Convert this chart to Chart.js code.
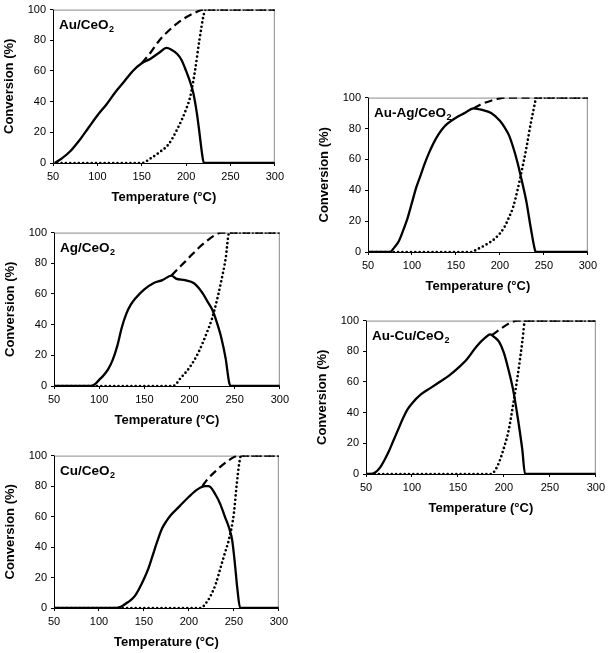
<!DOCTYPE html>
<html lang="en">
<head>
<meta charset="UTF-8">
<title>Conversion vs Temperature</title>
<script src="https://cdn.jsdelivr.net/npm/chart.js"></script>
<style>
  body { margin: 0; background: #fff; }
  #page { position: relative; width: 610px; height: 653px; overflow: hidden; }
  .panel { position: absolute; }
</style>
</head>
<body>
<div id="page">
  <div class="panel" id="p1"><canvas id="c1"></canvas></div>
  <div class="panel" id="p2"><canvas id="c2"></canvas></div>
  <div class="panel" id="p3"><canvas id="c3"></canvas></div>
  <div class="panel" id="p4"><canvas id="c4"></canvas></div>
  <div class="panel" id="p5"><canvas id="c5"></canvas></div>
</div>
<script>
// tick values
const xTicks = [50, 100, 150, 200, 250, 300];
const yTicks = [0, 20, 40, 60, 80, 100];

// Au/CeO2
const auSolidT = [52,60,70,80,90,100,110,120,130,140,150,160,170,178,183,190,195,200,205,208,212,215,218,220,300];
const auSolidY = [0,3,8,15,23,31,38,46,53,60,65,68,72,75,74,71,67,60,52,46,33,20,6,0,0];
const auDashT = [150,160,170,180,190,200,210,220,300];
const auDashY = [65,72,80,86,91,95,98,100,100];
const auDotT = [50,150,160,170,180,190,200,205,210,215,220,222,300];
const auDotY = [0,0,3,7,12,22,35,44,60,80,97,100,100];

// Ag/CeO2
const agSolidT = [50,90,95,100,105,110,115,120,125,130,135,140,150,160,170,180,185,195,205,210,215,220,225,230,235,240,244,246,300];
const agSolidY = [0,0,1,4,7,11,17,26,38,47,53,57,63,67,69,72,70,69,67,64,60,55,50,42,32,18,2,0,0];
const agDashT = [180,190,200,210,220,230,235,300];
const agDashY = [72,78,84,90,95,99,100,100];
const agDotT = [50,182,190,200,210,220,225,230,235,240,244,300];
const agDotY = [0,0,5,12,22,36,44,55,68,83,100,100];

// Cu/CeO2
const cuSolidT = [50,118,125,130,135,140,145,150,155,160,165,170,175,180,190,200,210,218,222,230,235,240,245,248,251,254,257,300];
const cuSolidY = [0,0,1,3,5,8,13,19,26,35,44,52,57,61,67,73,78,80,80,74,68,60,52,45,30,12,0,0];
const cuDashT = [215,220,230,240,250,255,300];
const cuDashY = [80,84,90,95,99,100,100];
const cuDotT = [50,213,220,225,230,235,240,245,250,253,256,258,300];
const cuDotY = [0,0,4,9,16,26,36,46,62,80,95,100,100];

// Au-Ag/CeO2
const auagSolidT = [50,75,80,85,90,95,100,105,110,115,120,125,130,135,140,150,160,170,180,190,200,205,210,215,220,225,230,235,240,241,300];
const auagSolidY = [0,0,3,7,14,22,32,42,50,58,65,71,76,80,83,87,90,93,92,90,85,81,76,68,58,46,33,16,1,0,0];
const auagDashT = [170,180,190,200,210,300];
const auagDashY = [93,96,98,99.5,100,100];
const auagDotT = [50,167,175,185,195,205,210,215,220,225,230,235,240,241,300];
const auagDotY = [0,0,2,5,9,16,22,29,40,53,67,83,97,100,100];

// Au-Cu/CeO2
const aucuSolidT = [50,55,60,65,70,75,80,85,90,95,100,110,120,130,140,150,160,170,180,185,190,195,200,205,210,215,220,223,300];
const aucuSolidY = [0,0,1,4,9,15,22,29,36,42,46,52,56,60,64,69,75,83,89,91,89,86,79,68,55,37,16,0,0];
const aucuDashT = [187,195,205,215,300];
const aucuDashY = [90.5,94,98,100,100];
const aucuDotT = [50,186,190,195,200,205,210,215,220,223,300];
const aucuDotY = [0,0,2,8,17,28,45,64,86,100,100];

// plot area of each panel on the page: left, top, right, bottom
const panels = [
  { id: "1", name: "Au/CeO", area: [53, 7, 278, 163],
    series: [auSolidT, auSolidY, auDashT, auDashY, auDotT, auDotY] },
  { id: "2", name: "Ag/CeO", area: [54, 230, 283, 386],
    series: [agSolidT, agSolidY, agDashT, agDashY, agDotT, agDotY] },
  { id: "3", name: "Cu/CeO", area: [54, 453, 282, 608],
    series: [cuSolidT, cuSolidY, cuDashT, cuDashY, cuDotT, cuDotY] },
  { id: "4", name: "Au-Ag/CeO", area: [368, 95, 591, 252],
    series: [auagSolidT, auagSolidY, auagDashT, auagDashY, auagDotT, auagDotY] },
  { id: "5", name: "Au-Cu/CeO", area: [366, 318, 599, 474],
    series: [aucuSolidT, aucuSolidY, aucuDashT, aucuDashY, aucuDotT, aucuDotY] }
];

const FONT = "'Liberation Sans', Arial, sans-serif";
const YAXIS_W = 55, TOP_PAD = 8, RIGHT_PAD = 10, XAXIS_H = 50;

function pts(xs, ys) {
  return xs.map((x, i) => ({ x: x, y: ys[i] }));
}

// frame around the plot area (top and right sides are grey)
const framePlugin = {
  id: "frame",
  beforeDatasetsDraw(chart) {
    const a = chart.chartArea, ctx = chart.ctx;
    ctx.save();
    ctx.strokeStyle = "#8a8a8a";
    ctx.lineWidth = 1;
    ctx.strokeRect(a.left + 0.5, a.top + 0.5, a.right - a.left - 1, a.bottom - a.top);
    ctx.strokeStyle = "#000";
    ctx.beginPath();
    ctx.moveTo(a.left + 0.5, a.top);
    ctx.lineTo(a.left + 0.5, a.bottom + 0.5);
    ctx.lineTo(a.right, a.bottom + 0.5);
    ctx.stroke();
    ctx.restore();
  }
};

// catalyst name with subscript 2
const namePlugin = {
  id: "catalystName",
  afterDraw(chart, args, opts) {
    const a = chart.chartArea, ctx = chart.ctx;
    const x = a.left + 6, y = a.top + 19;
    ctx.save();
    ctx.fillStyle = "#000";
    ctx.textBaseline = "alphabetic";
    ctx.font = "bold 13.5px " + FONT;
    ctx.fillText(opts.text, x, y);
    const w = ctx.measureText(opts.text).width;
    ctx.font = "bold 9px " + FONT;
    ctx.fillText("2", x + w + 0.5, y + 3);
    ctx.restore();
  }
};

panels.forEach(p => {
  const [L, T, R, B] = p.area;
  const box = document.getElementById("p" + p.id);
  const canvas = document.getElementById("c" + p.id);
  const w = R - L + YAXIS_W + RIGHT_PAD;
  const h = B - T + TOP_PAD + XAXIS_H;
  box.style.left = (L - YAXIS_W) + "px";
  box.style.top = (T - TOP_PAD) + "px";
  canvas.width = w;
  canvas.height = h;
  canvas.style.width = w + "px";
  canvas.style.height = h + "px";

  const [sT, sY, dT, dY, oT, oY] = p.series;

  new Chart(canvas.getContext("2d"), {
    type: "line",
    data: {
      datasets: [
        {
          label: "solid",
          data: pts(sT, sY),
          borderColor: "#000",
          borderWidth: 2.3,
          pointRadius: 0,
          cubicInterpolationMode: "monotone"
        },
        {
          label: "dashed",
          data: pts(dT, dY),
          borderColor: "#000",
          borderWidth: 2.2,
          borderDash: [8, 4.5],
          pointRadius: 0,
          cubicInterpolationMode: "monotone"
        },
        {
          label: "dotted",
          data: pts(oT, oY),
          borderColor: "#000",
          borderWidth: 2.7,
          borderDash: [0, 4.3],
          borderCapStyle: "round",
          pointRadius: 0,
          cubicInterpolationMode: "monotone"
        }
      ]
    },
    options: {
      responsive: false,
      animation: false,
      events: [],
      layout: { padding: { left: 0, top: TOP_PAD, right: RIGHT_PAD, bottom: 0 } },
      plugins: {
        legend: { display: false },
        tooltip: { enabled: false },
        catalystName: { text: p.name }
      },
      scales: {
        x: {
          type: "linear",
          min: 50,
          max: 300,
          afterFit(scale) { scale.height = XAXIS_H; },
          afterBuildTicks(scale) { scale.ticks = xTicks.map(v => ({ value: v })); },
          grid: { drawOnChartArea: false, drawTicks: true, tickLength: 3, color: "#000" },
          border: { display: false },
          ticks: { color: "#000", padding: 4, maxRotation: 0, font: { family: FONT, size: 11 } },
          title: {
            display: true,
            text: "Temperature (°C)",
            color: "#000",
            padding: { top: 0, bottom: 8 },
            font: { family: FONT, size: 13, weight: "bold" }
          }
        },
        y: {
          min: 0,
          max: 100,
          afterFit(scale) { scale.width = YAXIS_W; },
          afterBuildTicks(scale) { scale.ticks = yTicks.map(v => ({ value: v })); },
          grid: { drawOnChartArea: false, drawTicks: true, tickLength: 3, color: "#000" },
          border: { display: false },
          ticks: { color: "#000", padding: 4, font: { family: FONT, size: 11 } },
          title: {
            display: true,
            text: "Conversion (%)",
            color: "#000",
            padding: { top: 4, bottom: 0 },
            font: { family: FONT, size: 13, weight: "bold" }
          }
        }
      }
    },
    plugins: [framePlugin, namePlugin]
  });
});
</script>
</body>
</html>
